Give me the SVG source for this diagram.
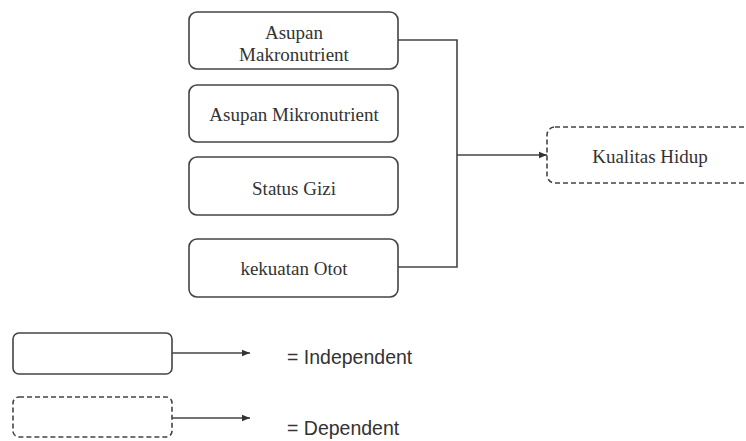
<svg xmlns="http://www.w3.org/2000/svg" width="746" height="441" viewBox="0 0 746 441">
<style>
.box{fill:#fff;stroke:#444;stroke-width:1.6}
.dash{fill:#fff;stroke:#444;stroke-width:1.6;stroke-dasharray:5 3}
.lbl{font-family:"Liberation Serif","Times New Roman",serif;font-size:19px;fill:#333;text-anchor:middle}
.leg{font-family:"Liberation Sans",Arial,sans-serif;font-size:19.5px;fill:#333}
.ln{fill:none;stroke:#444;stroke-width:1.6}
</style>
<defs>
<marker id="ah" viewBox="0 0 10 10" refX="10" refY="5" markerWidth="8" markerHeight="8" markerUnits="userSpaceOnUse" orient="auto">
<path d="M0,1 L10,5 L0,9 z" fill="#333"/>
</marker>
</defs>
<g id="connectors">
<path class="ln" d="M398,40 H457 V267 H398"/>
<path class="ln" d="M457,155 H547" marker-end="url(#ah)"/>
<path class="ln" d="M172,353 H250" marker-end="url(#ah)"/>
<path class="ln" d="M172,418 H250" marker-end="url(#ah)"/>
</g>
<g id="makro">
<rect class="box" x="189" y="12" width="209" height="57" rx="8"/>
<text class="lbl" x="294" y="39">Asupan</text>
<text class="lbl" x="294" y="61">Makronutrient</text>
</g>
<g id="mikro">
<rect class="box" x="189" y="85" width="209" height="57" rx="8"/>
<text class="lbl" x="294" y="121">Asupan Mikronutrient</text>
</g>
<g id="status">
<rect class="box" x="189" y="157" width="209" height="58" rx="8"/>
<text class="lbl" x="294" y="195">Status Gizi</text>
</g>
<g id="otot">
<rect class="box" x="189" y="239" width="209" height="58" rx="8"/>
<text class="lbl" x="294" y="275">kekuatan Otot</text>
</g>
<g id="kualitas">
<rect class="dash" x="547" y="127" width="230" height="56" rx="8"/>
<text class="lbl" x="650" y="163">Kualitas Hidup</text>
</g>
<g id="legend-independent">
<rect class="box" x="13" y="333" width="159" height="41" rx="6"/>
<text class="leg" x="287" y="364">= Independent</text>
</g>
<g id="legend-dependent">
<rect class="dash" x="13" y="397" width="159" height="40" rx="6"/>
<text class="leg" x="287" y="435">= Dependent</text>
</g>
</svg>
